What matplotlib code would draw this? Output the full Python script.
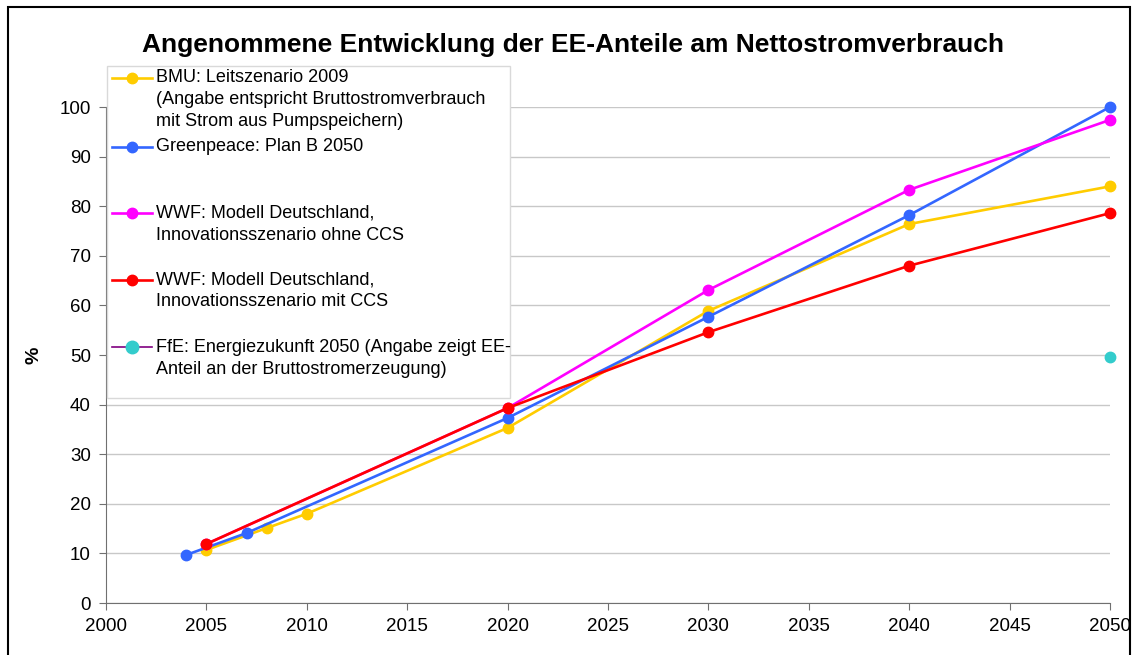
import matplotlib.pyplot as plt
from matplotlib.lines import Line2D
from matplotlib.patches import Rectangle

plt.rcParams['font.family'] = ['Liberation Sans', 'DejaVu Sans']

# Daten
bmu_jahr = [2005, 2008, 2010, 2020, 2030, 2040, 2050]
bmu_wert = [10.7, 15.1, 18.0, 35.3, 58.9, 76.4, 84.0]

gp_jahr = [2004, 2007, 2020, 2030, 2040, 2050]
gp_wert = [9.7, 14.1, 37.3, 57.7, 78.2, 100.0]

wwf_ohne_jahr = [2005, 2020, 2030, 2040, 2050]
wwf_ohne_wert = [11.9, 39.3, 63.1, 83.3, 97.4]

wwf_mit_jahr = [2005, 2020, 2030, 2040, 2050]
wwf_mit_wert = [11.9, 39.3, 54.6, 68.0, 78.6]

ffe_jahr = [2050]
ffe_wert = [49.6]

reihen = [
    (bmu_jahr, bmu_wert, '#FFCC00', '#FFCC00',
     ["BMU: Leitszenario 2009", "(Angabe entspricht Bruttostromverbrauch", "mit Strom aus Pumpspeichern)"]),
    (gp_jahr, gp_wert, '#3366FF', '#3366FF', ["Greenpeace: Plan B 2050"]),
    (wwf_ohne_jahr, wwf_ohne_wert, '#FF00FF', '#FF00FF',
     ["WWF: Modell Deutschland,", "Innovationsszenario ohne CCS"]),
    (wwf_mit_jahr, wwf_mit_wert, '#FF0000', '#FF0000',
     ["WWF: Modell Deutschland,", "Innovationsszenario mit CCS"]),
    (ffe_jahr, ffe_wert, '#800080', '#33CCCC',
     ["FfE: Energiezukunft 2050 (Angabe zeigt EE-", "Anteil an der Bruttostromerzeugung)"]),
]
leg_y = [78, 147, 213, 280, 347]  # Pixelpositionen der Legendeneinträge

W, H = 1137, 655
fig = plt.figure(figsize=(W / 100, H / 100), dpi=100)
ax = fig.add_axes([106 / W, 1 - 603 / H, (1110 - 106) / W, (603 - 107) / H])

for jahr, wert, lc, mc, lab in reihen:
    ax.plot(jahr, wert, color=mc, lw=1.9, marker='o', markersize=7.5,
            markerfacecolor=mc, markeredgecolor=mc, clip_on=False, zorder=3)

ax.set_xlim(2000, 2050)
ax.set_ylim(0, 100)
ax.set_xticks(range(2000, 2051, 5))
ax.set_yticks(range(0, 101, 10))
ax.tick_params(direction='out', length=5, color='#707070', labelsize=13.5, pad=6)
ax.grid(axis='y', color='#C8C8C8', lw=1)
ax.set_axisbelow(True)
for s in ['top', 'right']:
    ax.spines[s].set_visible(False)
for s in ['left', 'bottom']:
    ax.spines[s].set_color('#707070')
ax.set_ylabel('%', fontsize=14, fontweight='bold', labelpad=12)

fig.text(573 / W, 1 - 45 / H, 'Angenommene Entwicklung der EE-Anteile am Nettostromverbrauch',
         ha='center', va='center', fontsize=19, fontweight='bold')

# Legende von Hand (wie Excel)
fig.patches.append(Rectangle((107 / W, 1 - 398 / H), (510 - 107) / W, (398 - 66) / H,
                             transform=fig.transFigure, facecolor='white',
                             edgecolor='#D9D9D9', lw=1, zorder=5))
for (jahr, wert, lc, mc, lab), y in zip(reihen, leg_y):
    fy = 1 - y / H
    fig.add_artist(Line2D([112 / W, 152 / W], [fy, fy], color=lc,
                          lw=1.9 if lc == mc else 1.2, zorder=6))
    fig.add_artist(Line2D([132 / W], [fy], marker='o', markersize=7.5 if lc == mc else 9,
                          color=mc, zorder=7))
    for i, t in enumerate(lab):
        fig.text(156 / W, 1 - (y + i * 22) / H, t, ha='left', va='center',
                 fontsize=13, zorder=8)

# Rahmen um das Diagramm
fig.patches.append(Rectangle((8 / W, -0.05), (1130 - 8) / W, 1.05 - 7 / H,
                             transform=fig.transFigure, fill=False,
                             edgecolor='black', lw=1.5, zorder=10))

fig.savefig('out.png', dpi=100)
